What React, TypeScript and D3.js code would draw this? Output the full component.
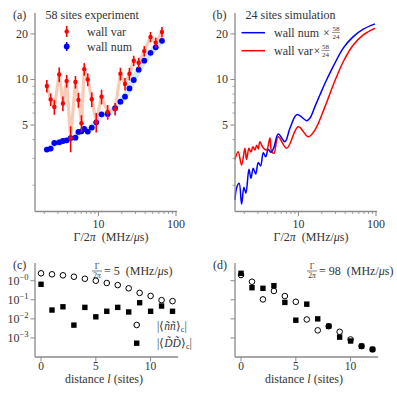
import React from "react";
import * as d3 from "d3";

// ---------- data ----------
// panel (a): experiment, 58 sites
const gammaExp = [2.16, 2.42, 2.7, 3.12, 3.48, 3.89, 4.38, 5.05, 5.52, 6.04, 6.56, 7.28, 8.2, 9.37, 10.96, 13.15, 16.4, 19.2, 22.0, 25.1, 28.5, 33.0, 39.0, 46.9, 54.8, 65.9];
const wallNum = [3.44, 3.49, 3.8, 3.84, 3.92, 3.96, 4.1, 4.12, 4.5, 4.54, 4.72, 4.52, 4.81, 5.21, 5.88, 5.91, 6.45, 7.13, 7.7, 8.72, 9.92, 11.6, 13.3, 15.0, 16.3, 18.0];
const wallNumErr = [0.12, 0.12, 0.13, 0.13, 0.13, 0.13, 0.14, 0.14, 0.15, 0.15, 0.16, 0.15, 0.16, 0.17, 0.19, 0.19, 0.2, 0.22, 0.24, 0.26, 0.3, 0.34, 0.38, 0.42, 0.45, 0.5];
const wallVar = [9.06, 7.37, 6.58, 10.8, 6.94, 9.78, 4.1, 9.63, 7.32, 5.13, 11.7, 10.0, 7.4, 5.23, 7.7, 6.1, 6.38, 10.9, 9.34, 10.9, 13.3, 12.9, 15.4, 19.1, 17.5, 20.6];
const wallVarErr = [0.87, 0.71, 0.74, 1.21, 0.78, 0.94, 0.8, 0.92, 0.82, 0.67, 1.12, 0.96, 0.83, 0.77, 0.86, 0.68, 0.61, 1.05, 0.9, 1.05, 1.05, 1.02, 1.22, 1.5, 1.38, 1.63];

// panel (b): simulation, 24 sites (scaled by 58/24)
const gammaSimNum = [1.52, 1.59, 1.72, 1.85, 1.98, 2.1, 2.3, 2.44, 2.61, 2.81, 3.03, 3.25, 3.52, 3.78, 4.08, 4.42, 4.83, 5.48, 6.7, 7.77, 9.6, 12.8, 14.1, 16.3, 18.9, 22.0, 28.1, 37.8, 50.9, 68.6, 97.0];
const simNum = [1.6, 1.91, 2.06, 1.5, 1.94, 1.77, 2.55, 2.22, 2.59, 2.37, 2.82, 2.68, 3.28, 3.08, 3.45, 3.3, 3.56, 4.36, 3.88, 4.76, 5.87, 5.34, 5.56, 6.61, 7.9, 9.44, 12.2, 16.1, 19.2, 21.5, 23.3];
const gammaSimVar = [1.52, 1.67, 1.85, 2.04, 2.14, 2.3, 2.44, 2.59, 2.75, 2.89, 3.04, 3.18, 3.52, 3.89, 4.29, 4.51, 4.83, 5.48, 7.05, 9.94, 13.4, 16.3, 22.0, 28.1, 37.8, 50.9, 68.6, 97.0];
const simVar = [2.96, 3.33, 2.72, 3.51, 2.96, 3.51, 3.31, 3.59, 3.42, 3.68, 3.47, 3.88, 3.52, 3.42, 4.1, 3.33, 3.25, 4.18, 3.51, 4.87, 4.18, 4.63, 6.61, 9.2, 13.1, 16.9, 19.7, 21.8];

// panels (c), (d): correlations vs distance
const distance = [0, 1, 2, 3, 4, 5, 6, 7, 8, 9, 10, 11, 12];
const nnC = [2.45, 2.17, 1.92, 1.62, 1.27, 1.0, 0.76, 0.59, 0.4, 0.23, 0.16, 0.096, 0.085];
const ddC = [0.65, 0.029, 0.043, 0.0047, 0.04, 0.0128, 0.025, 0.04, 0.023, 0.07, 0.025, 0.047, 0.025];
const nnD = [2.0, 0.885, 0.105, 0.29, 0.157, 0.0785, 0.0093, 0.0025, 0.0041, 0.0021, 0.00083, 0.00037, 0.00025];
const ddD = [2.45, 0.43, 0.4, 0.55, 0.073, 0.0085, 0.059, 0.01, 0.0041, 0.0011, 0.00069, 0.00037, 0.00025];

// ticks
const yMajorAB = [5, 10, 20];
const yMinorAB = [2, 3, 4, 6, 7, 8, 9];
const xMajorAB = [10, 100];
const xMinorAB = [2, 3, 4, 5, 6, 7, 8, 9, 20, 30, 40, 50, 60, 70, 80, 90];
const yTicksCD = [1, 0.1, 0.01, 0.001];
const yTickExpCD = ["−0", "−1", "−2", "−3"];
const xTicksCD = [0, 5, 10];

const FONT = "Liberation Serif";
const AXIS = "#8a8a8a";
const TXT = "#333";
const BLUE = "#0000ff";
const RED = "#ff0000";

export default function App() {
  const xA = d3.scaleLog().domain([1.52, 103]).range([35, 177]);
  const yA = d3.scaleLog().domain([1.34, 27.5]).range([211.5, 13]);
  const xC = d3.scaleLinear().domain([-0.55, 12.5]).range([35, 178]);
  const yC = d3.scaleLog().domain([1e-4, 8.5]).range([357, 263]);

  const idx = d3.range(gammaExp.length);
  const bandNum = d3.line<number>().x((i) => xA(gammaExp[i])).y((i) => yA(wallNum[i]));
  const bandVar = d3.line<number>().x((i) => xA(gammaExp[i])).y((i) => yA(wallVar[i]));

  const simNumLine = d3
    .line<number>()
    .curve(d3.curveCatmullRom.alpha(0.5))
    .x((i) => xA(gammaSimNum[i]))
    .y((i) => yA(simNum[i]));
  const simVarLine = d3
    .line<number>()
    .curve(d3.curveCatmullRom.alpha(0.5))
    .x((i) => xA(gammaSimVar[i]))
    .y((i) => yA(simVar[i]));

  const [ax0, ax1] = xA.range();
  const [ay0, ay1] = yA.range();

  const axesAB = (labels: boolean) => (
    <g>
      <line x1={ax0} x2={ax0} y1={ay1} y2={ay0} stroke={AXIS} strokeWidth={1.3} />
      <line x1={ax0} x2={ax1} y1={ay0} y2={ay0} stroke={AXIS} strokeWidth={1.3} />
      {yMajorAB.map((v) => (
        <g key={"ym" + v}>
          <line x1={ax0 - 4.5} x2={ax0} y1={yA(v)} y2={yA(v)} stroke={AXIS} strokeWidth={1} />
          {labels && (
            <text x={ax0 - 7} y={yA(v) + 4} textAnchor="end" fontSize={12} fill={TXT}>
              {v}
            </text>
          )}
        </g>
      ))}
      {yMinorAB.map((v) => (
        <line key={"yn" + v} x1={ax0 - 2.5} x2={ax0} y1={yA(v)} y2={yA(v)} stroke={AXIS} strokeWidth={0.8} />
      ))}
      {xMajorAB.map((v) => (
        <g key={"xm" + v}>
          <line x1={xA(v)} x2={xA(v)} y1={ay0} y2={ay0 + 4.5} stroke={AXIS} strokeWidth={1} />
          <text x={xA(v)} y={ay0 + 16.5} textAnchor="middle" fontSize={12} fill={TXT}>
            {v}
          </text>
        </g>
      ))}
      {xMinorAB.map((v) => (
        <line key={"xn" + v} x1={xA(v)} x2={xA(v)} y1={ay0} y2={ay0 + 2.5} stroke={AXIS} strokeWidth={0.8} />
      ))}
      <text x={111} y={ay0 + 29.5} textAnchor="middle" fontSize={12} fill={TXT}>
        Γ/2<tspan fontStyle="italic">π</tspan>{"\u00a0\u00a0"}(MHz/<tspan fontStyle="italic">μ</tspan>s)
      </text>
    </g>
  );

  const [cx0, cx1] = xC.range();
  const [cy0, cy1] = yC.range();

  const axesCD = (labels: boolean) => (
    <g>
      <line x1={cx0} x2={cx0} y1={cy1} y2={cy0} stroke={AXIS} strokeWidth={1.3} />
      <line x1={cx0} x2={cx1} y1={cy0} y2={cy0} stroke={AXIS} strokeWidth={1.3} />
      {yTicksCD.map((v, i) => (
        <g key={"yc" + v}>
          <line x1={cx0 - 4.5} x2={cx0} y1={yC(v)} y2={yC(v)} stroke={AXIS} strokeWidth={1} />
          {labels && (
            <text x={cx0 - 6.5} y={yC(v) + 4} textAnchor="end" fontSize={12} fill={TXT}>
              10<tspan fontSize={8.5} dy={-5}>{yTickExpCD[i]}</tspan>
            </text>
          )}
        </g>
      ))}
      {xTicksCD.map((v) => (
        <g key={"xc" + v}>
          <line x1={xC(v)} x2={xC(v)} y1={cy0} y2={cy0 + 4.5} stroke={AXIS} strokeWidth={1} />
          <text x={xC(v)} y={cy0 + 12.5} textAnchor="middle" fontSize={11.5} fill={TXT}>
            {v}
          </text>
        </g>
      ))}
      <text x={104} y={cy0 + 26} textAnchor="middle" fontSize={12} fill={TXT}>
        distance <tspan fontStyle="italic">l</tspan> (sites)
      </text>
    </g>
  );

  const title = (x: number, val: string) => (
    <g>
      <text x={x} y={268.5} textAnchor="middle" fontSize={8} fill={TXT}>Γ</text>
      <line x1={x - 5} x2={x + 5} y1={271} y2={271} stroke={TXT} strokeWidth={0.6} />
      <text x={x} y={278} textAnchor="middle" fontSize={7.5} fill={TXT}>
        2<tspan fontStyle="italic">π</tspan>
      </text>
      <text x={x + 7} y={275} fontSize={12} fill={TXT}>
        = {val}{"\u00a0\u00a0"}(MHz/<tspan fontStyle="italic">μ</tspan>s)
      </text>
    </g>
  );

  const circles = (vals: number[], key: string) =>
    distance.map((d, i) => (
      <circle key={key + i} cx={xC(d)} cy={yC(vals[i])} r={2.8} fill="none" stroke="#000" strokeWidth={1} />
    ));
  const squares = (vals: number[], key: string) =>
    distance.map((d, i) => (
      <rect key={key + i} x={xC(d) - 2.7} y={yC(vals[i]) - 2.7} width={5.4} height={5.4} fill="#000" />
    ));

  return (
    <svg
      width={397}
      height={394}
      style={{ position: "absolute", left: 0, top: 0, background: "#fff", fontFamily: FONT }}
    >
      <g style={{ fontFamily: FONT }}>
        {/* ---------- panel (a) ---------- */}
        <g>
          <path d={bandNum(idx) || ""} fill="none" stroke="#cfe8f5" strokeWidth={6} strokeLinejoin="round" strokeLinecap="round" />
          <path d={bandVar(idx) || ""} fill="none" stroke="#fbcab6" strokeWidth={3.2} strokeLinejoin="round" />
          {idx.map((i) => (
            <g key={"bn" + i}>
              <line x1={xA(gammaExp[i])} x2={xA(gammaExp[i])} y1={yA(wallNum[i] - wallNumErr[i])} y2={yA(wallNum[i] + wallNumErr[i])} stroke={BLUE} strokeWidth={1.5} />
              <circle cx={xA(gammaExp[i])} cy={yA(wallNum[i])} r={2.9} fill={BLUE} />
            </g>
          ))}
          {idx.map((i) => (
            <g key={"rv" + i}>
              <line x1={xA(gammaExp[i])} x2={xA(gammaExp[i])} y1={yA(wallVar[i] - wallVarErr[i])} y2={yA(wallVar[i] + wallVarErr[i])} stroke={RED} strokeWidth={1.6} />
              <circle cx={xA(gammaExp[i])} cy={yA(wallVar[i])} r={2.2} fill={RED} />
            </g>
          ))}
          {axesAB(true)}
          <text x={13} y={19} fontSize={12} fill={TXT}>(a)</text>
          <text x={45.5} y={19} fontSize={12} fill={TXT}>58 sites experiment</text>
          <line x1={66.7} x2={66.7} y1={26} y2={37} stroke={RED} strokeWidth={1.6} />
          <circle cx={66.7} cy={31.5} r={2.2} fill={RED} />
          <text x={87} y={35.5} fontSize={12} fill={TXT}>wall var</text>
          <line x1={66.7} x2={66.7} y1={42} y2={51} stroke={BLUE} strokeWidth={1.5} />
          <circle cx={66.7} cy={46.5} r={2.9} fill={BLUE} />
          <text x={87} y={50.5} fontSize={12} fill={TXT}>wall num</text>
        </g>

        {/* ---------- panel (b) ---------- */}
        <g transform="translate(200,0)">
          <path d={simVarLine(d3.range(gammaSimVar.length)) || ""} fill="none" stroke={RED} strokeWidth={1.5} />
          <path d={simNumLine(d3.range(gammaSimNum.length)) || ""} fill="none" stroke={BLUE} strokeWidth={1.5} />
          {axesAB(true)}
          <text x={12.5} y={19} fontSize={12} fill={TXT}>(b)</text>
          <text x={45.5} y={19} fontSize={12} fill={TXT}>24 sites simulation</text>
          <line x1={41.5} x2={65} y1={32.7} y2={32.7} stroke={BLUE} strokeWidth={1.5} />
          <text x={74} y={37} fontSize={12} fill={TXT}>wall num</text>
          <text x={126.5} y={37} fontSize={12} textAnchor="middle" fill={TXT}>×</text>
          <text x={136} y={31} fontSize={7} textAnchor="middle" fill={TXT}>58</text>
          <line x1={132} x2={140} y1={32.5} y2={32.5} stroke={TXT} strokeWidth={0.5} />
          <text x={136} y={39} fontSize={7} textAnchor="middle" fill={TXT}>24</text>
          <line x1={41.5} x2={65} y1={50.7} y2={50.7} stroke={RED} strokeWidth={1.5} />
          <text x={74} y={55} fontSize={12} fill={TXT}>wall var</text>
          <text x={117} y={55} fontSize={12} textAnchor="middle" fill={TXT}>×</text>
          <text x={125.5} y={49} fontSize={7} textAnchor="middle" fill={TXT}>58</text>
          <line x1={121.5} x2={129.5} y1={50.5} y2={50.5} stroke={TXT} strokeWidth={0.5} />
          <text x={125.5} y={57} fontSize={7} textAnchor="middle" fill={TXT}>24</text>
        </g>

        {/* ---------- panel (c) ---------- */}
        <g>
          {axesCD(true)}
          {circles(nnC, "nc")}
          {squares(ddC, "dc")}
          <text x={13} y={269} fontSize={12} fill={TXT}>(c)</text>
          {title(97, "5")}
          <circle cx={136.7} cy={325} r={2.8} fill="none" stroke="#000" strokeWidth={1} />
          <rect x={134} y={340.5} width={5.4} height={5.4} fill="#000" />
          <text x={157} y={330} fontSize={11.5} fill={TXT}>
            |⟨<tspan fontStyle="italic">ññ</tspan>⟩<tspan fontSize={8} dy={2}>c</tspan><tspan dy={-2}>|</tspan>
          </text>
          <text x={157} y={347} fontSize={11.5} fill={TXT}>
            |⟨<tspan fontStyle="italic">D̃D̃</tspan>⟩<tspan fontSize={8} dy={2}>c</tspan><tspan dy={-2}>|</tspan>
          </text>
        </g>

        {/* ---------- panel (d) ---------- */}
        <g transform="translate(200,0)">
          {axesCD(false)}
          {circles(nnD, "nd")}
          {squares(ddD, "dd")}
          <text x={13} y={269} fontSize={12} fill={TXT}>(d)</text>
          {title(112, "98")}
        </g>
      </g>
    </svg>
  );
}
